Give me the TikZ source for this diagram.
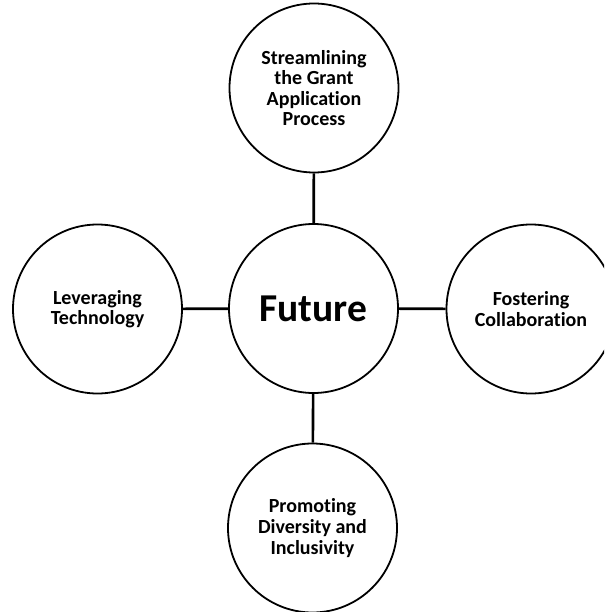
\documentclass[tikz,border=0pt]{standalone}
\usepackage{fontspec}
\setmainfont{Carlito}[Ligatures=CommonOff]
\begin{document}
\begin{tikzpicture}[x=1pt,y=-1pt,
  topic/.style={circle, draw=black, line width=1.8pt, fill=white,
    minimum size=169pt, inner sep=0pt, align=center,
    font=\bfseries\fontsize{20}{20.6}\selectfont},
  hub/.style={topic, font=\bfseries\fontsize{39.5}{42}\selectfont},
  link/.style={draw=black, line width=2.6pt}]
  \useasboundingbox (0,0) rectangle (604,612);
  \clip (0,0) rectangle (604,612);
  % hub and its four topics
  \node[hub]   (future) at (313.5,308.5) {Future};
  \node[topic] (grant)  at (314,88)      {Streamlining\\the Grant\\Application\\Process};
  \node[topic] (tech)   at (97.5,309)    {Leveraging\\Technology};
  \node[topic] (collab) at (531,309)     {Fostering\\Collaboration};
  \node[topic] (div)    at (312.5,528)   {Promoting\\Diversity and\\Inclusivity};
  % connectors between hub and topics
  \draw[link] (future) -- (grant);
  \draw[link] (future) -- (tech);
  \draw[link] (future) -- (collab);
  \draw[link] (future) -- (div);
\end{tikzpicture}
\end{document}
